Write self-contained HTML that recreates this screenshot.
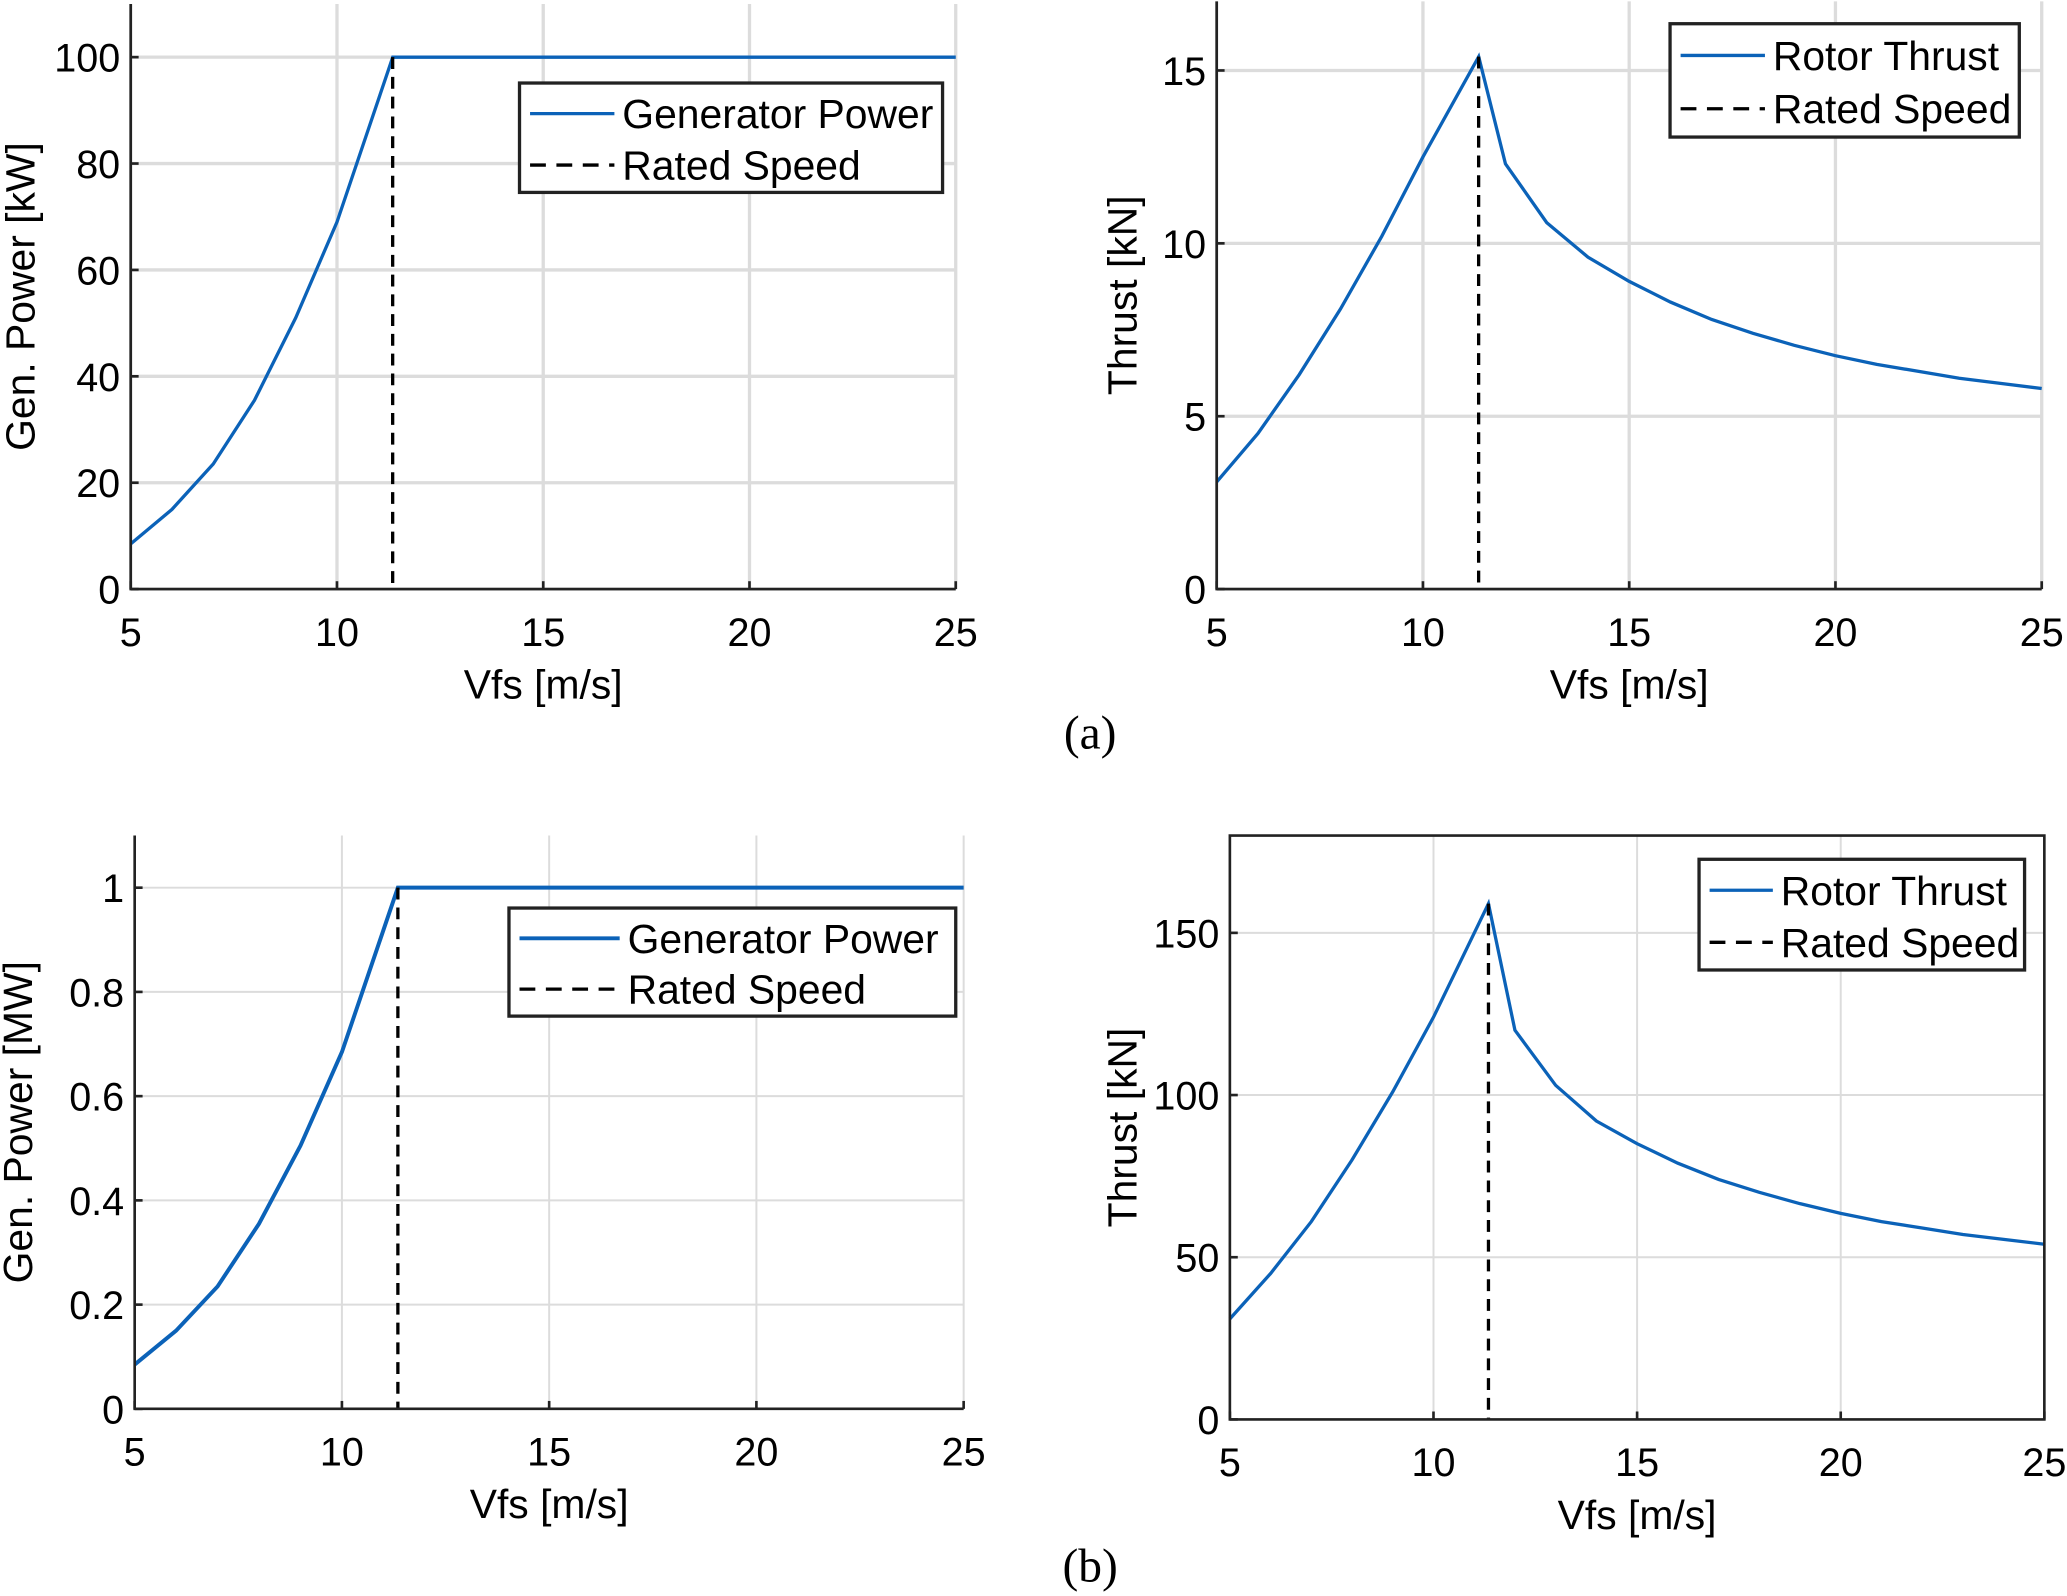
<!DOCTYPE html>
<html><head><meta charset="utf-8"><style>
html,body{margin:0;padding:0;background:#fff}
svg{display:block}
text{font-family:"Liberation Sans",Arial,sans-serif;fill:#000}
</style></head><body>
<svg id="fig" width="2067" height="1596" viewBox="0 0 1568 1211" xmlns="http://www.w3.org/2000/svg">
<text x="827" y="568" font-size="36" text-anchor="middle" style="font-family:'Liberation Serif',serif">(a)</text>
<text x="827" y="1200" font-size="36" text-anchor="middle" style="font-family:'Liberation Serif',serif">(b)</text>
</svg>
<script>
const windSpeeds = [5,6,7,8,9,10,11.35,12,13,14,15,16,17,18,19,20,21,22,23,24,25];
const powerA = [8.5,15,23.5,35.5,51,69,100,100,100,100,100,100,100,100,100,100,100,100,100,100,100];
const thrustA = [3.1,4.5,6.2,8.1,10.2,12.5,15.4,12.3,10.6,9.6,8.9,8.3,7.8,7.4,7.05,6.75,6.5,6.3,6.1,5.95,5.8];
const powerB = [0.085,0.15,0.235,0.355,0.505,0.685,1,1,1,1,1,1,1,1,1,1,1,1,1,1,1];
const thrustB = [31,45,61,80,101,124,159,120,103,92,85,79,74,70,66.5,63.5,61,59,57,55.5,54];
const ratedSpeed = 11.35;
const xTicks = [5,10,15,20,25];
const yTicksPowerA = [0,20,40,60,80,100];
const yTicksThrustA = [0,5,10,15];
const yTicksPowerB = [0,0.2,0.4,0.6,0.8,1];
const yTickLabelsPowerB = ['0','0.2','0.4','0.6','0.8','1'];
const yTicksThrustB = [0,50,100,150];

const NS='http://www.w3.org/2000/svg';
const svg=document.getElementById('fig');
function mk(tag,attrs,parent){const e=document.createElementNS(NS,tag);for(const k in attrs)e.setAttribute(k,attrs[k]);(parent||svg).appendChild(e);return e;}

function panel(o){
  const g=mk('g',{});
  
  
  const sx=v=>o.x0+(v-5)/20*(o.x1-o.x0);
  const sy=v=>o.yb-(v-o.ymin)/(o.ymax-o.ymin)*(o.yb-o.yt);
  xTicks.forEach(t=>{const l=mk('line',{x1:sx(t),x2:sx(t),y1:o.yt,y2:o.yb,stroke:'#dcdcdc','stroke-width':o.gw},g);
    });
  o.yticks.forEach(t=>{const l=mk('line',{x1:o.x0,x2:o.x1,y1:sy(t),y2:sy(t),stroke:'#dcdcdc','stroke-width':o.gw},g);
    });
  const pts=windSpeeds.map((v,i)=>sx(v).toFixed(1)+','+sy(o.data[i]).toFixed(1)).join(' ');
  const pl=mk('polyline',{points:pts,fill:'none',stroke:'#0b62b8','stroke-width':o.lw},g);
  
  const rated=mk('line',{x1:sx(ratedSpeed),x2:sx(ratedSpeed),y1:sy(o.data[6]),y2:o.yb,stroke:'#000','stroke-width':2.5,'stroke-dasharray':'9,6'},g);
  
  const ax=mk('path',{d:o.box?`M${o.x0},${o.yt}H${o.x1}V${o.yb}H${o.x0}Z`:`M${o.x0},${o.yt}V${o.yb}H${o.x1}`,fill:'none',stroke:'#222','stroke-width':2},g);
  
  xTicks.forEach(t=>{mk('line',{x1:sx(t),x2:sx(t),y1:o.yb,y2:o.yb-6,stroke:'#222','stroke-width':2},g);
    const tx=mk('text',{x:sx(t),y:o.yb+43,'font-size':30,'text-anchor':'middle'},g);tx.textContent=t;
    });
  o.yticks.forEach((t,i)=>{mk('line',{x1:o.x0,x2:o.x0+6,y1:sy(t),y2:sy(t),stroke:'#222','stroke-width':2},g);
    const tx=mk('text',{x:o.x0-8,y:sy(t)+11,'font-size':30,'text-anchor':'end'},g);tx.textContent=o.ylabels?o.ylabels[i]:t;
    });
  const xl=mk('text',{x:(o.x0+o.x1)/2,y:o.yb+83,'font-size':31,'text-anchor':'middle'},g);xl.textContent='Vfs [m/s]';
  
  const yx=o.ylx, yy=(o.yt+o.yb)/2;
  const yl=mk('text',{x:yx,y:yy,'font-size':31,'text-anchor':'middle',transform:`rotate(-90 ${yx} ${yy})`},g);yl.textContent=o.ylabel;
  
  const L=o.leg;
  const lg=mk('g',{},g);
  mk('rect',{x:L.x,y:L.y,width:L.w,height:L.h,fill:'#fff',stroke:'#222','stroke-width':2.5},lg);
  const r1=L.y+L.h*0.28, r2=L.y+L.h*0.75;
  mk('line',{x1:L.x+8,x2:L.x+L.lx,y1:r1,y2:r1,stroke:'#0b62b8','stroke-width':o.lw},lg);
  mk('line',{x1:L.x+8,x2:L.x+L.lx,y1:r2,y2:r2,stroke:'#000','stroke-width':2.5,'stroke-dasharray':'12,8'},lg);
  const t1=mk('text',{x:L.x+L.lx+6,y:r1+11,'font-size':31},lg);t1.textContent=o.legText;
  
  const t2=mk('text',{x:L.x+L.lx+6,y:r2+11,'font-size':31},lg);t2.textContent='Rated Speed';
  
}

panel({name:'power-chart-a',x0:99,x1:725,yt:3,yb:447,ymin:0,ymax:110,yticks:yTicksPowerA,data:powerA,gw:2.5,lw:2.5,box:false,
  seriesName:'generator-power-line',ylabel:'Gen. Power [kW]',ylx:26,legText:'Generator Power',
  leg:{x:394,y:63,w:321,h:83,lx:72}});
panel({name:'thrust-chart-a',x0:923,x1:1549,yt:1,yb:447,ymin:0,ymax:17,yticks:yTicksThrustA,data:thrustA,gw:2.5,lw:2.5,box:false,
  seriesName:'rotor-thrust-line',ylabel:'Thrust [kN]',ylx:862,legText:'Rotor Thrust',
  leg:{x:1267,y:18,w:265,h:86,lx:72}});
panel({name:'power-chart-b',x0:102,x1:731,yt:634,yb:1069,ymin:0,ymax:1.1,yticks:yTicksPowerB,ylabels:yTickLabelsPowerB,data:powerB,gw:1.5,lw:3,box:false,
  seriesName:'generator-power-line',ylabel:'Gen. Power [MW]',ylx:24,legText:'Generator Power',
  leg:{x:386,y:689,w:339,h:82,lx:84}});
panel({name:'thrust-chart-b',x0:933,x1:1551,yt:634,yb:1077,ymin:0,ymax:180,yticks:yTicksThrustB,data:thrustB,gw:1.5,lw:2.5,box:true,
  seriesName:'rotor-thrust-line',ylabel:'Thrust [kN]',ylx:862,legText:'Rotor Thrust',
  leg:{x:1289,y:652,w:247,h:84,lx:56}});
</script>
</body></html>
